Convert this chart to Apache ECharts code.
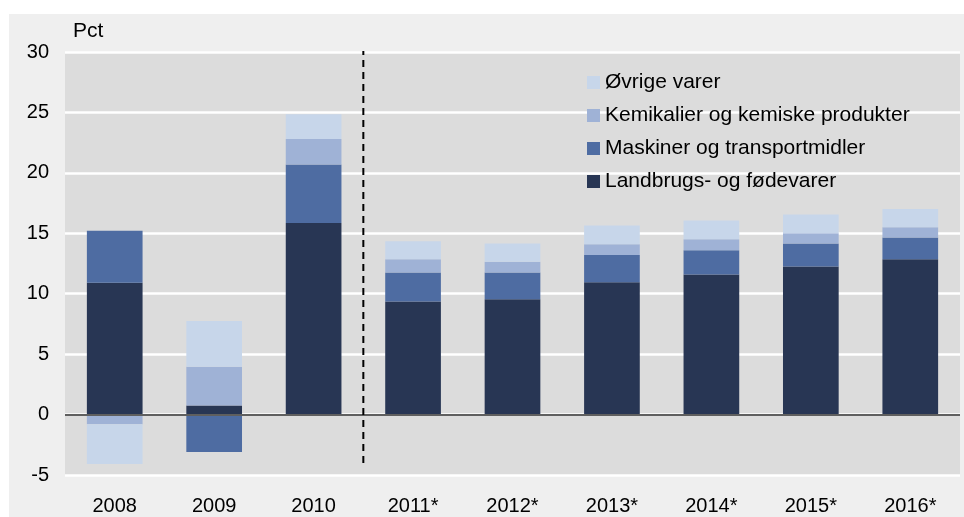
<!DOCTYPE html>
<html>
<head>
<meta charset="utf-8">
<title>Eksport</title>
<script src="https://cdn.jsdelivr.net/npm/echarts@6/dist/echarts.min.js"></script>
<style>
  html, body { margin: 0; padding: 0; background: #fff; }
  #chart { width: 964px; height: 517px; }
</style>
</head>
<body>
<div id="chart"></div>
<script>
const years = ['2008', '2009', '2010', '2011*', '2012*', '2013*', '2014*', '2015*', '2016*']
const landbrug = [10.9, 0.75, 15.85, 9.35, 9.55, 10.95, 11.6, 12.25, 12.85]
const maskiner = [4.3, -3.1, 4.85, 2.4, 2.2, 2.25, 2.0, 1.9, 1.8]
const kemikalier = [-0.8, 3.2, 2.1, 1.1, 0.9, 0.9, 0.9, 0.85, 0.85]
const oevrige = [-3.3, 3.8, 2.05, 1.5, 1.5, 1.55, 1.55, 1.55, 1.5]
const yTicks = { min: -5, max: 30, step: 5 }
// skillelinje mellem faktiske tal og prognose (mellem 2010 og 2011*)
const splitLine = [[3, -4], [3, 30.2]]

const names = ['Landbrugs- og fødevarer', 'Maskiner og transportmidler', 'Kemikalier og kemiske produkter', 'Øvrige varer']
const colors = ['#283654', '#4E6CA2', '#9FB2D6', '#C7D6EA']
const values = [landbrug, maskiner, kemikalier, oevrige]

const chart = echarts.init(document.getElementById('chart'))
const font = 'Liberation Sans, Arial, Helvetica, sans-serif'

const barSeries = values.map((data, i) => ({
  name: names[i],
  type: 'bar',
  stack: 'total',
  barWidth: '56%',
  itemStyle: { color: colors[i] },
  data: data,
  animation: false
}))
barSeries[3].markLine = {
  silent: true,
  symbol: 'none',
  label: { show: false },
  lineStyle: { color: '#5f5f5f', width: 2, type: 'solid' },
  data: [{ yAxis: 0 }],
  animation: false
}

chart.setOption({
  backgroundColor: '#fff',
  textStyle: { fontFamily: font },
  graphic: [
    { type: 'rect', left: 9, top: 14, shape: { width: 955, height: 503 }, style: { fill: '#EFEFEF' }, z: -10 },
    { type: 'text', left: 73, top: 21, style: { text: 'Pct', fontSize: 21, fontFamily: font, fill: '#000' } }
  ],
  grid: {
    left: 65, right: 4, top: 52, bottom: 42,
    show: true, backgroundColor: '#DCDCDC', borderWidth: 0
  },
  legend: {
    orient: 'vertical',
    left: 582,
    top: 67,
    itemWidth: 13,
    itemHeight: 13,
    itemGap: 12,
    icon: 'rect',
    textStyle: { fontSize: 21, color: '#000', fontFamily: font },
    data: names.slice().reverse()
  },
  xAxis: [
    {
      type: 'category',
      data: years,
      axisLine: { show: false },
      axisTick: { show: false },
      axisLabel: { fontSize: 20, color: '#000', margin: 21 }
    },
    { type: 'value', min: 0, max: 9, show: false }
  ],
  yAxis: {
    type: 'value',
    min: yTicks.min,
    max: yTicks.max,
    interval: yTicks.step,
    axisLine: { show: false },
    axisTick: { show: false },
    axisLabel: { fontSize: 20, color: '#000', margin: 16 },
    splitLine: { lineStyle: { color: '#fff', width: 2.5 } }
  },
  series: barSeries.concat([{
    type: 'line',
    xAxisIndex: 1,
    data: splitLine,
    symbol: 'none',
    silent: true,
    lineStyle: { color: '#000', width: 2, type: [7, 5] },
    z: 5,
    animation: false
  }])
})
</script>
</body>
</html>
